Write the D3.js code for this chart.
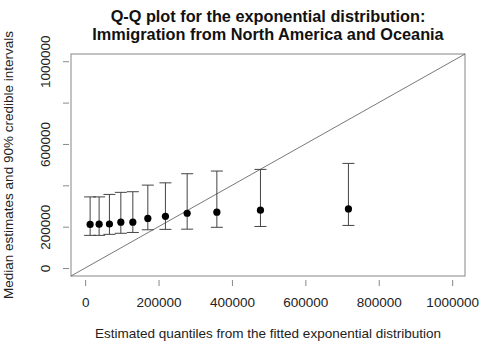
<!DOCTYPE html>
<html>
<head>
<meta charset="utf-8">
<script src="https://cdn.jsdelivr.net/npm/d3@7"></script>
<style>
  body { margin: 0; background: #fff; }
  text { font-family: "Liberation Sans", Arial, sans-serif; }
</style>
</head>
<body>
<div id="chart"></div>
<script>
// Data
var quantiles = [13600, 38100, 66200, 97300, 130000, 170800, 218800, 278000, 358900, 477700, 717400];
var medians   = [211000, 212000, 213000, 222000, 222000, 240000, 250000, 265000, 270000, 280000, 286000];
var lower     = [158000, 158000, 163000, 168000, 172000, 185000, 187000, 188000, 197000, 201000, 206000];
var upper     = [344000, 344000, 356000, 366000, 369000, 401000, 412000, 456000, 469000, 477000, 506000];

var xTicks = [0, 200000, 400000, 600000, 800000, 1000000];
var xTickLabels = ["0", "200000", "400000", "600000", "800000", "1000000"];
var yTicks = [0, 200000, 400000, 600000, 800000, 1000000];
var yTickLabels = ["0", "200000", "", "600000", "", "1000000"];

var svgWidth = 482;
var svgHeight = 349;

// plot box in pixels
var box = { left: 71, right: 465, top: 54, bottom: 276 };
var domain = [-38500, 1035000];

var svg = d3.select("#chart")
  .append("svg")
  .attr("width", svgWidth)
  .attr("height", svgHeight);

var x = d3.scaleLinear().domain(domain).range([box.left, box.right]);
var y = d3.scaleLinear().domain(domain).range([box.bottom, box.top]);

// box
svg.append("rect")
  .attr("x", box.left)
  .attr("y", box.top)
  .attr("width", box.right - box.left)
  .attr("height", box.bottom - box.top)
  .attr("fill", "none")
  .attr("stroke", "#9a9a9a")
  .attr("stroke-width", 1.2);

// axes
var xAxis = d3.axisBottom(x)
  .tickValues(xTicks)
  .tickFormat((d, i) => xTickLabels[i])
  .tickSize(6)
  .tickPadding(11);

var xg = svg.append("g")
  .attr("transform", "translate(0,280)")
  .call(xAxis);
xg.select(".domain").remove();
xg.selectAll("line").attr("stroke", "#888");
xg.selectAll("text")
  .attr("font-family", "Liberation Sans, Arial, sans-serif")
  .attr("font-size", "13.5px")
  .attr("fill", "#222");

var yAxis = d3.axisLeft(y)
  .tickValues(yTicks)
  .tickFormat((d, i) => yTickLabels[i])
  .tickSize(6);

var yg = svg.append("g")
  .attr("transform", "translate(69,0)")
  .call(yAxis);
yg.select(".domain").remove();
yg.selectAll("line").attr("stroke", "#888");
yg.selectAll("text")
  .attr("transform", "rotate(-90)")
  .attr("x", 0)
  .attr("y", -19)
  .attr("dy", 0)
  .attr("text-anchor", "middle")
  .attr("font-family", "Liberation Sans, Arial, sans-serif")
  .attr("font-size", "13.5px")
  .attr("fill", "#222");

// y = x reference line
svg.append("line")
  .attr("x1", x(domain[0]))
  .attr("y1", y(domain[0]))
  .attr("x2", x(domain[1]))
  .attr("y2", y(domain[1]))
  .attr("stroke", "#555")
  .attr("stroke-width", 0.8);

// credible intervals
var idx = d3.range(quantiles.length);
var cap = 6;

var bars = svg.append("g")
  .attr("stroke", "#444")
  .attr("stroke-width", 1);

bars.selectAll(".whisker")
  .data(idx)
  .enter()
  .append("line")
  .attr("x1", i => x(quantiles[i]))
  .attr("x2", i => x(quantiles[i]))
  .attr("y1", i => y(lower[i]))
  .attr("y2", i => y(upper[i]));

bars.selectAll(".capTop")
  .data(idx)
  .enter()
  .append("line")
  .attr("x1", i => x(quantiles[i]) - cap)
  .attr("x2", i => x(quantiles[i]) + cap)
  .attr("y1", i => y(upper[i]))
  .attr("y2", i => y(upper[i]));

bars.selectAll(".capBottom")
  .data(idx)
  .enter()
  .append("line")
  .attr("x1", i => x(quantiles[i]) - cap)
  .attr("x2", i => x(quantiles[i]) + cap)
  .attr("y1", i => y(lower[i]))
  .attr("y2", i => y(lower[i]));

// medians
svg.selectAll("circle")
  .data(idx)
  .enter()
  .append("circle")
  .attr("cx", i => x(quantiles[i]))
  .attr("cy", i => y(medians[i]))
  .attr("r", 3.6)
  .attr("fill", "#000");

// titles
var cx = (box.left + box.right) / 2;

svg.append("text")
  .attr("x", cx)
  .attr("y", 22)
  .attr("text-anchor", "middle")
  .attr("font-weight", "bold")
  .attr("font-size", "16.3px")
  .attr("fill", "#111")
  .text("Q-Q plot for the exponential distribution:");

svg.append("text")
  .attr("x", cx)
  .attr("y", 40)
  .attr("text-anchor", "middle")
  .attr("font-weight", "bold")
  .attr("font-size", "16.3px")
  .attr("fill", "#111")
  .text("Immigration from North America and Oceania");

svg.append("text")
  .attr("x", cx)
  .attr("y", 338)
  .attr("text-anchor", "middle")
  .attr("font-size", "13.5px")
  .attr("fill", "#222")
  .text("Estimated quantiles from the fitted exponential distribution");

svg.append("text")
  .attr("transform", `translate(13, ${(box.top + box.bottom) / 2}) rotate(-90)`)
  .attr("text-anchor", "middle")
  .attr("font-size", "13.5px")
  .attr("fill", "#222")
  .text("Median estimates and 90% credible intervals");
</script>
</body>
</html>
